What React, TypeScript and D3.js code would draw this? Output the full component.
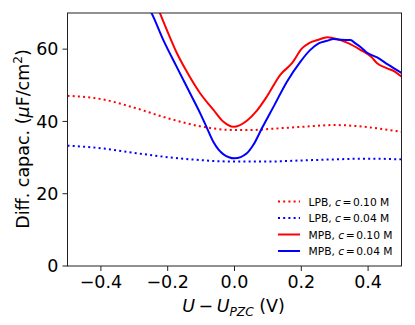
import React from "react";
import * as d3 from "d3";

const xTicks = [-0.4, -0.2, 0.0, 0.2, 0.4];
const yTicks = [0, 20, 40, 60];

const lpbX = [-0.5, -0.4, -0.3, -0.2, -0.1, -0.05, 0, 0.05, 0.1, 0.2, 0.3, 0.4, 0.5];
const lpb010 = [47.1, 46.2, 43.8, 40.9, 38.6, 37.9, 37.6, 37.6, 37.9, 38.5, 39.0, 38.4, 37.1];
const lpb004 = [33.3, 32.6, 31.3, 30.1, 29.3, 29.0, 28.9, 28.9, 28.9, 29.2, 29.5, 29.7, 29.5];

const mpb010X = [-0.24, -0.223, -0.193, -0.173, -0.143, -0.103, -0.063, -0.033, -0.003, 0.037, 0.067, 0.097, 0.137, 0.172, 0.202, 0.222, 0.252, 0.277, 0.297, 0.337, 0.377, 0.41, 0.427, 0.457, 0.48, 0.5];
const mpb010 = [73.7, 69.9, 63.2, 59.0, 53.8, 47.8, 43.2, 39.9, 38.5, 40.2, 43.0, 46.9, 52.9, 56.1, 60.2, 61.6, 62.6, 63.3, 63.0, 61.8, 59.8, 57.8, 56.1, 54.7, 53.8, 52.4];

const mpb004X = [-0.27, -0.248, -0.213, -0.173, -0.133, -0.103, -0.083, -0.063, -0.033, 0, 0.037, 0.057, 0.082, 0.117, 0.157, 0.197, 0.227, 0.252, 0.277, 0.297, 0.32, 0.347, 0.362, 0.38, 0.397, 0.427, 0.46, 0.5];
const mpb004 = [73.5, 69.9, 62.5, 55.1, 47.8, 42.3, 38.3, 34.3, 30.9, 29.8, 31.2, 33.6, 38.1, 44.1, 51.0, 56.5, 59.8, 61.6, 62.3, 62.8, 62.6, 62.5, 61.6, 60.4, 59.0, 57.7, 55.7, 53.4];

const legendLabels = ["LPB", "LPB", "MPB", "MPB"];
const legendConc = ["0.10", "0.04", "0.10", "0.04"];

export default function App() {
  const W = 415, H = 325;
  const left = 67.5, right = 401.5, top = 13, bottom = 266;
  const x = d3.scaleLinear().domain([-0.5, 0.5]).range([left, right]);
  const y = d3.scaleLinear().domain([0, 70]).range([bottom, top]);
  const line = d3.line<[number, number]>().x(d => x(d[0])).y(d => y(d[1])).curve(d3.curveMonotoneX);
  const zip = (xs: number[], ys: number[]) => xs.map((v, i) => [v, ys[i]] as [number, number]);

  const series = [
    { d: zip(lpbX, lpb010), color: "#ff0000", dash: "2,3.2" },
    { d: zip(lpbX, lpb004), color: "#0000ff", dash: "2,3.2" },
    { d: zip(mpb010X, mpb010), color: "#ff0000", dash: null },
    { d: zip(mpb004X, mpb004), color: "#0000ff", dash: null },
  ];
  const font = "DejaVu Sans, sans-serif";
  const legY = [201.5, 218, 234.5, 251];

  return (
    <svg width={W} height={H} style={{ position: "absolute", left: 0, top: 0, background: "#fff" }} fontFamily={font}>
      <defs>
        <clipPath id="clip">
          <rect x={left} y={top} width={right - left} height={bottom - top} />
        </clipPath>
      </defs>
      <g clipPath="url(#clip)">
        {series.map((s, i) => (
          <path key={i} d={line(s.d) || ""} fill="none" stroke={s.color} strokeWidth={2}
            strokeDasharray={s.dash || undefined} />
        ))}
      </g>
      <rect x={left} y={top} width={right - left} height={bottom - top} fill="none" stroke="#222" strokeWidth={1} />
      {xTicks.map(t => (
        <g key={t}>
          <line x1={x(t)} x2={x(t)} y1={bottom} y2={bottom + 5} stroke="#222" />
          <text x={x(t)} y={bottom + 22} textAnchor="middle" fontSize={17.5} fill="#000">
            {t < 0 ? "\u2212" + Math.abs(t).toFixed(1) : t.toFixed(1)}
          </text>
        </g>
      ))}
      {yTicks.map(t => (
        <g key={t}>
          <line x1={left - 5} x2={left} y1={y(t)} y2={y(t)} stroke="#222" />
          <text x={left - 9} y={y(t) + 6.3} textAnchor="end" fontSize={17.5} fill="#000">{t}</text>
        </g>
      ))}
      <text x={233.5} y={312} textAnchor="middle" fontSize={17.5} fill="#000">
        <tspan fontStyle="italic">U</tspan>
        <tspan dx={3.5}>{"\u2212"}</tspan>
        <tspan dx={3.5} fontStyle="italic">U</tspan>
        <tspan fontStyle="italic" fontSize={12.2} dy={4}>PZC</tspan>
        <tspan dy={-4}> (V)</tspan>
      </text>
      <text transform={`translate(28.5,139) rotate(-90)`} textAnchor="middle" fontSize={17.5} fill="#000">
        <tspan>Diff. capac. (</tspan>
        <tspan fontStyle="italic">μ</tspan>
        <tspan>F/cm</tspan>
        <tspan fontSize={12} dy={-7}>2</tspan>
        <tspan dy={7}>)</tspan>
      </text>
      {legendLabels.map((lab, i) => (
        <g key={i}>
          <line x1={278} x2={300} y1={legY[i]} y2={legY[i]} stroke={series[i].color} strokeWidth={2}
            strokeDasharray={series[i].dash || undefined} />
          <text x={308.5} y={legY[i] + 4} fontSize={10.7} fill="#000">
            <tspan>{lab}, </tspan>
            <tspan fontStyle="italic">c</tspan>
            <tspan dx={1.5}>=</tspan>
            <tspan dx={1.5}>{legendConc[i]} M</tspan>
          </text>
        </g>
      ))}
    </svg>
  );
}
